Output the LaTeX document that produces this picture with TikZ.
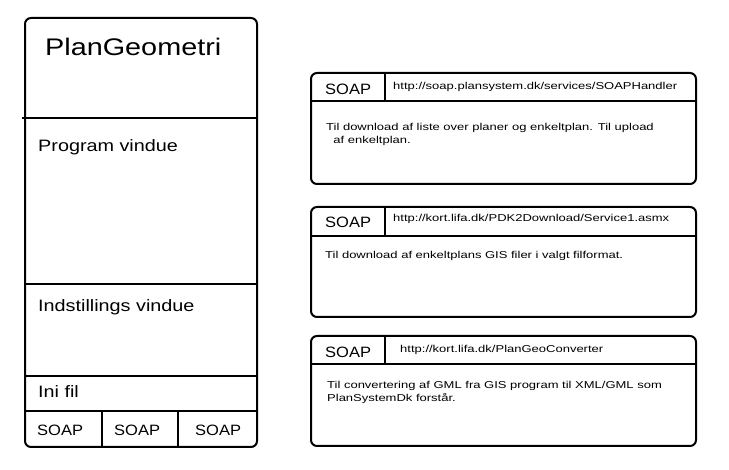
\documentclass[tikz,border=0pt]{standalone}
\usepackage{fontspec}
\setmainfont{Liberation Sans}
\newfontfamily\wideA[FakeStretch=1.2]{Liberation Sans}
\newfontfamily\wideB[FakeStretch=1.3]{Liberation Sans}
\newfontfamily\wideC[FakeStretch=1.1]{Liberation Sans}
\begin{document}
\begin{tikzpicture}[x=1pt,y=-1pt,
  box/.style={draw,line width=2pt,rounded corners=6pt},
  ln/.style={line width=2pt},
  big/.style={anchor=west,inner sep=0pt,font=\wideA\fontsize{16.5}{19}\selectfont},
  soap/.style={anchor=west,inner sep=0pt,font=\wideC\fontsize{15}{18}\selectfont},
  sm/.style={anchor=west,inner sep=0pt,font=\wideB\fontsize{10}{13}\selectfont,align=left}]
\useasboundingbox (0,0) rectangle (729,470);
% left panel
\draw[box] (25,18) rectangle (257,447);
\draw[ln] (22,118) -- (257,118);
\draw[ln] (25,284) -- (257,284);
\draw[ln] (25,376) -- (257,376);
\draw[ln] (25,411) -- (257,411);
\draw[ln] (102,411) -- (102,447);
\draw[ln] (178,411) -- (178,447);
\node[anchor=west,inner sep=0pt,font=\wideA\fontsize{24}{27}\selectfont] (pg) at (45,47) {PlanGeometri};
\node[big] (pv) at (38,147) {Program vindue};
\node[big] (iv) at (38,307) {Indstillings vindue};
\node[big] (ini) at (38,392) {Ini fil};
\node[soap] (s1) at (37,430) {SOAP};
\node[soap] (s2) at (114,430) {SOAP};
\node[soap] (s3) at (195,430) {SOAP};
% right boxes
\foreach \t/\b/\h in {73/184/101, 207/317/236, 336/446/364}{
  \draw[box] (311,\t) rectangle (696,\b);
  \draw[ln] (311,\h) -- (696,\h);
  \draw[ln] (385,\t) -- (385,\h);
}
\node[soap] (a1) at (325,89) {SOAP};
\node[sm] (u1) at (393,87) {http://soap.plansystem.dk/services/SOAPHandler};
\node[sm,anchor=north west] (d1) at (326,123) {Til download af liste over planer og enkeltplan. Til upload\\\ \ af enkeltplan.};
\node[soap] (a2) at (325,222) {SOAP};
\node[sm] (u2) at (393,219) {http://kort.lifa.dk/PDK2Download/Service1.asmx};
\node[sm] (d2) at (325,256) {Til download af enkeltplans GIS filer i valgt filformat.};
\node[soap] (a3) at (325,352) {SOAP};
\node[sm] (u3) at (400,350) {http://kort.lifa.dk/PlanGeoConverter};
\node[sm,anchor=north west] (d3) at (327,381) {Til convertering af GML fra GIS program til XML/GML som\\PlanSystemDk forstår.};
\end{tikzpicture}
\end{document}
